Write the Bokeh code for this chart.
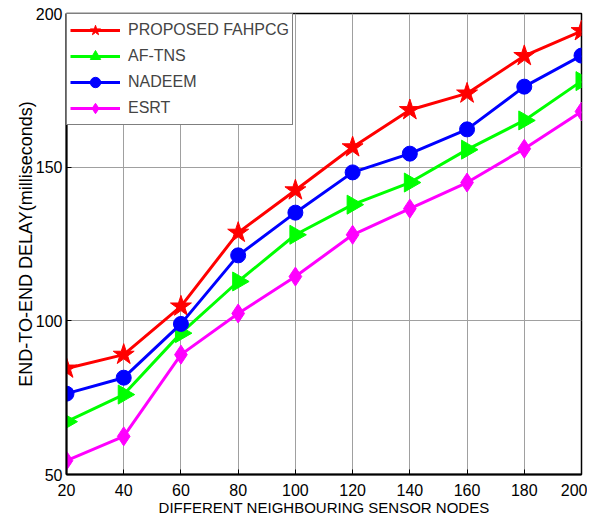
import numpy as np
from bokeh.plotting import figure
from bokeh.models import Range1d, FixedTicker, Legend, LegendItem
from bokeh.embed import file_html
from bokeh.resources import INLINE

nodes = [20, 40, 60, 80, 100, 120, 140, 160, 180, 200]
proposed = [84.5, 89, 104.7, 128.7, 142.5, 156.5, 168.6, 174, 186.2, 194.3]
af_tns = [67.2, 76, 96, 112.8, 128, 137.8, 145, 155.7, 165.2, 178]
nadeem = [76.3, 81.5, 99, 121.3, 135.2, 148.3, 154.4, 162.3, 176.2, 186.3]
esrt = [54.5, 62.4, 89, 102.4, 114.4, 128, 136.5, 145, 156, 168.1]
x_ticks = [20, 40, 60, 80, 100, 120, 140, 160, 180, 200]
y_ticks = [50, 100, 150, 200]

FONT = "Liberation Sans"

p = figure(width=587, height=519, output_backend="svg", toolbar_location=None,
           x_range=Range1d(20, 200), y_range=Range1d(50, 200),
           min_border_left=66, min_border_right=6, min_border_top=13, min_border_bottom=45)
p.outline_line_color = "black"
p.outline_line_width = 1.5
p.background_fill_color = "white"
p.border_fill_color = "white"

for ax in (p.xaxis[0], p.yaxis[0]):
    ax.axis_line_width = 2
    ax.axis_line_color = "black"
    ax.major_tick_in = 5
    ax.major_tick_out = 0
    ax.minor_tick_line_color = None
    ax.major_label_text_font = FONT
    ax.major_label_text_font_size = "16px"
    ax.major_label_text_color = "black"
    ax.axis_label_text_font = FONT
    ax.axis_label_text_font_style = "normal"
    ax.axis_label_text_color = "black"

p.xaxis.axis_label_text_font_size = "15px"
p.yaxis.axis_label_text_font_size = "18px"
p.xaxis.ticker = FixedTicker(ticks=x_ticks)
p.yaxis.ticker = FixedTicker(ticks=y_ticks)
p.xaxis.axis_label = "DIFFERENT NEIGHBOURING SENSOR NODES"
p.yaxis.axis_label = "END-TO-END DELAY(milliseconds)"
p.xaxis.major_label_standoff = 9
p.yaxis.major_label_standoff = 4
p.xaxis.axis_label_standoff = 0
p.yaxis.axis_label_standoff = -3

p.xgrid.ticker = FixedTicker(ticks=x_ticks)
p.ygrid.ticker = FixedTicker(ticks=y_ticks)
p.grid.grid_line_color = "#a0a0a0"
p.grid.grid_line_width = 1

series = [
    ("PROPOSED FAHPCG", proposed, "#ff0000", "star", 0, 22),
    ("AF-TNS", af_tns, "#00ff00", "triangle", -np.pi / 2, 19),
    ("NADEEM", nadeem, "#0000ff", "circle", 0, 15),
    ("ESRT", esrt, "#ff00ff", "diamond", 0, 19),
]
items = []
for name, ys, color, marker, ang, size in series:
    r1 = p.line(nodes, ys, line_color=color, line_width=3)
    r2 = p.scatter(nodes, ys, marker=marker, size=size, angle=ang,
                   fill_color=color, line_color=color)
    items.append(LegendItem(label=name, renderers=[r1, r2]))

legend = Legend(items=items, location="top_left", margin=0, padding=3, spacing=0,
                glyph_width=50, glyph_height=26, label_text_font=FONT,
                label_text_font_size="16px", label_standoff=8,
                border_line_color="black", border_line_width=1.5,
                background_fill_alpha=1.0)
p.add_layout(legend)

open("out.html", "w").write(file_html(p, INLINE))
